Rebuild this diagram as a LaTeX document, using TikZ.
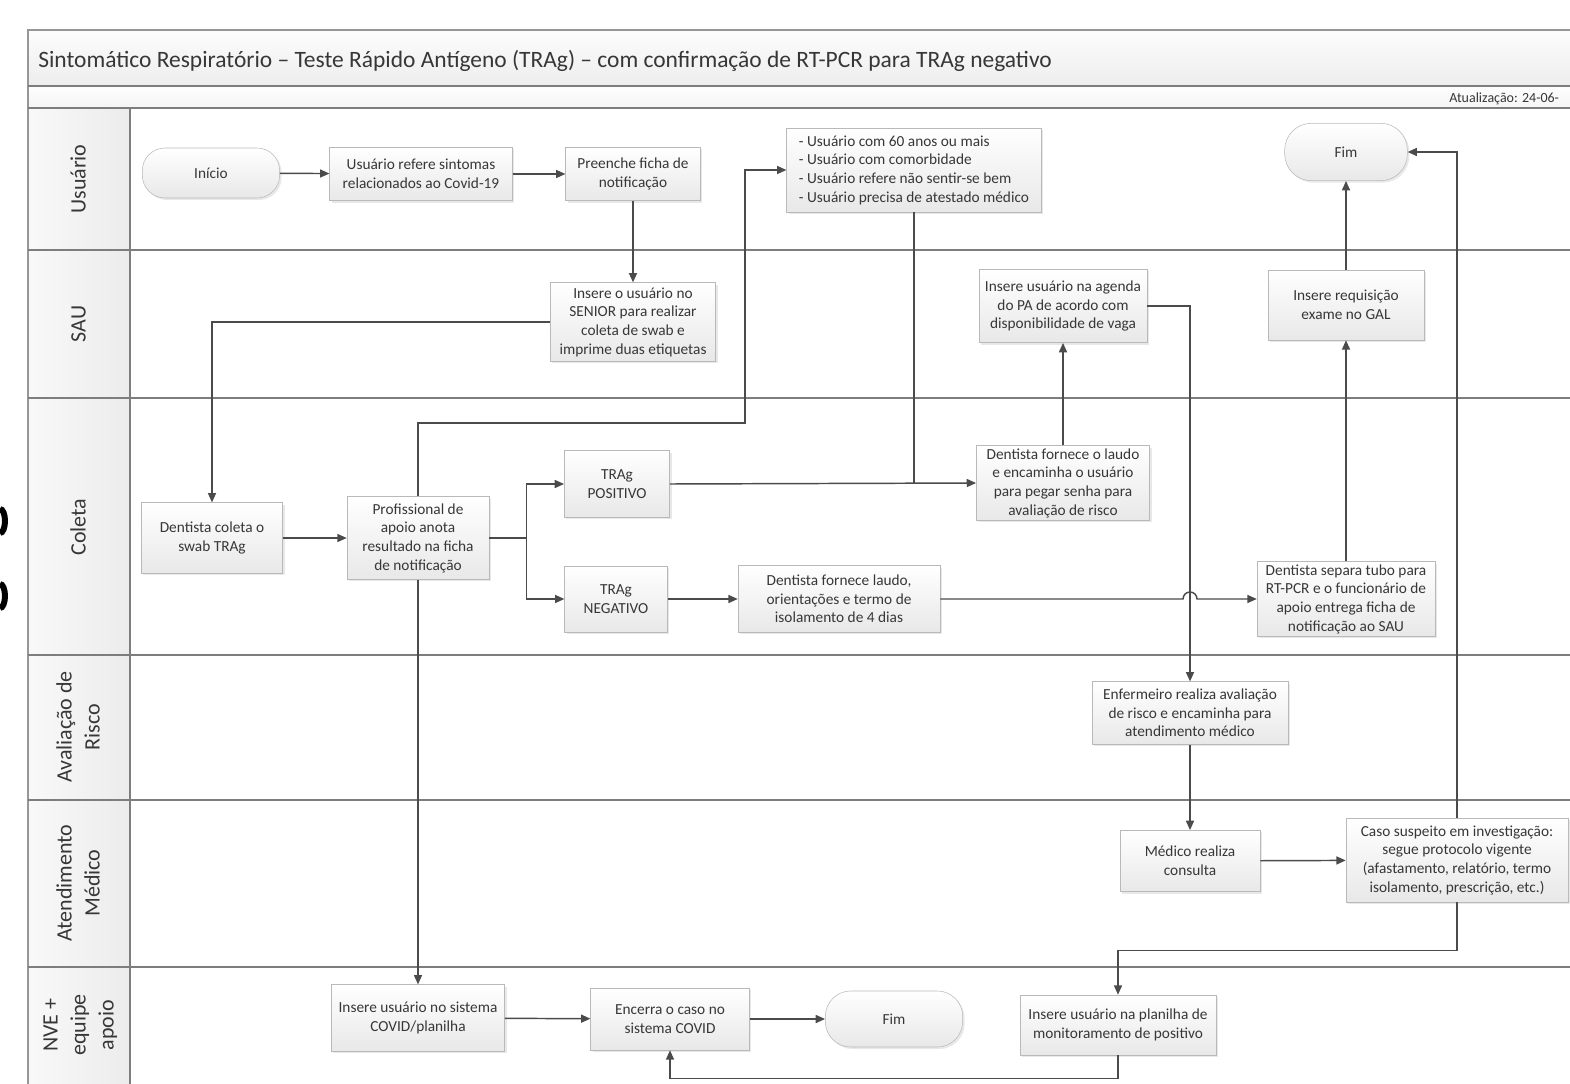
\documentclass[tikz,border=0pt]{standalone}
\usepackage{fontspec}
\setmainfont{Carlito}
\usetikzlibrary{arrows.meta,shadows,calc}
\definecolor{linegray}{RGB}{75,75,75}
\definecolor{boxline}{RGB}{185,185,185}
\definecolor{boxfill}{RGB}{232,232,232}
\definecolor{lanegray}{RGB}{125,125,125}
\definecolor{textgray}{RGB}{55,55,55}
\newcommand{\lanetext}[1]{\begin{tabular}{@{}c@{}}#1\end{tabular}}

\begin{document}
\begin{tikzpicture}[x=0.75pt,y=0.75pt,yscale=-1,xscale=1,
	stepbox/.style={draw=boxline, top color=white, bottom color=boxfill, drop shadow={opacity=0.18,shadow xshift=1.5pt,shadow yshift=-1.5pt}, align=center, text=textgray, font=\fontsize{11.5}{14}\selectfont, inner sep=2pt},
	pillbox/.style={stepbox, rounded corners=17pt},
	lanelabel/.style={rotate=90, text=textgray, inner sep=0pt, font=\fontsize{16.5}{21}\selectfont},
	conn/.style={draw=linegray, line width=1.1pt, -{Triangle[length=7pt,width=6pt]}},
	link/.style={draw=linegray, line width=1.1pt}]
		\useasboundingbox (0,0) rectangle (1570,1084);
		\fill [white] (0,0) rectangle (1570,1084);
		\clip (0,0) rectangle (1570,1084);
		%Frame and lanes
		\shade [top color=gray!2, bottom color=gray!14] (28,30) rectangle (1580,86);
		\shade [top color=gray!1, bottom color=gray!8] (28,86) rectangle (1580,108);
		\shade [left color=gray!5, right color=gray!15] (28,108) rectangle (130,1090);
		\draw [lanegray!80, line width=1pt] (1580,30) -- (28,30) -- (28,1090);
		\draw [lanegray, line width=2pt] (28,86) -- (1580,86);
		\draw [lanegray, line width=1.2pt] (28,108) -- (1580,108);
		\foreach \y in {250,398,655,800,967}
			\draw [lanegray, line width=1.5pt] (28,\y) -- (1580,\y);
		\draw [lanegray, line width=1.2pt] (130,108) -- (130,1090);
		%Edge marks
		\draw [line width=4.5pt] (0,533) arc [start angle=90, end angle=-90, x radius=5, y radius=12];
		\draw [line width=4.5pt] (0,608) arc [start angle=90, end angle=-90, x radius=5, y radius=12];
		
		% Text Node
		\draw (37,61) node [anchor=west][inner sep=0.75pt] [font=\fontsize{17.6}{20}\selectfont, text=textgray] (title) {Sintomático Respiratório – Teste Rápido Antígeno (TRAg) – com confirmação de RT-PCR para TRAg negativo};
		% Text Node
		\draw (1448,99) node [anchor=west][inner sep=0.75pt] [font=\fontsize{10.5}{12}\selectfont, text=textgray] (update) {Atualização: 24-06-};
		
		% Lane labels
		\draw (80,179) node [lanelabel] (laneA) {\lanetext{Usuário}};
		\draw (80,324) node [lanelabel] (laneB) {\lanetext{SAU}};
		\draw (80,527) node [lanelabel] (laneC) {\lanetext{Coleta}};
		\draw (80,727) node [lanelabel] (laneD) {\lanetext{Avaliação de\\Risco}};
		\draw (80,883) node [lanelabel] (laneE) {\lanetext{Atendimento\\Médico}};
		\draw (80,1025) node [lanelabel] (laneF) {\lanetext{NVE +\\equipe\\apoio}};
		
		% Text Node
		\draw (211,173) node [pillbox, minimum width=103pt, minimum height=37.5pt] (inicio) {Início};
		% Text Node
		\draw (421,174) node [stepbox, minimum width=137pt, minimum height=40pt] (refere) {Usuário refere sintomas\\relacionados ao Covid-19};
		% Text Node
		\draw (633,174) node [stepbox, minimum width=101pt, minimum height=40pt] (preenche) {Preenche ficha de\\notificação};
		% Text Node
		\draw (914,170) node [stepbox, align=left, minimum width=191pt, minimum height=63pt] (criterios) {- Usuário com 60 anos ou mais\\- Usuário com comorbidade\\- Usuário refere não sentir-se bem\\- Usuário precisa de atestado médico};
		% Text Node
		\draw (1346,152) node [pillbox, rounded corners=20pt, minimum width=92pt, minimum height=43pt] (fimA) {Fim};
		% Text Node
		\draw (633,322) node [stepbox, minimum width=124pt, minimum height=59pt] (senior) {Insere o usuário no\\SENIOR para realizar\\coleta de swab e\\imprime duas etiquetas};
		% Text Node
		\draw (1063,306) node [stepbox, minimum width=126pt, minimum height=55pt] (agenda) {Insere usuário na agenda\\do PA de acordo com\\disponibilidade de vaga};
		% Text Node
		\draw (1346,305) node [stepbox, minimum width=117pt, minimum height=52.5pt] (gal) {Insere requisição\\exame no GAL};
		% Text Node
		\draw (212,538) node [stepbox, minimum width=106pt, minimum height=53pt] (swab) {Dentista coleta o\\swab TRAg};
		% Text Node
		\draw (418,538) node [stepbox, minimum width=106.5pt, minimum height=62pt] (apoio) {Profissional de\\apoio anota\\resultado na ficha\\de notificação};
		% Text Node
		\draw (617,484) node [stepbox, minimum width=79pt, minimum height=50pt] (positivo) {TRAg\\POSITIVO};
		% Text Node
		\draw (616,599) node [stepbox, minimum width=77pt, minimum height=49.5pt] (negativo) {TRAg\\NEGATIVO};
		% Text Node
		\draw (1063,483) node [stepbox, minimum width=130pt, minimum height=55pt] (laudoA) {Dentista fornece o laudo\\e encaminha o usuário\\para pegar senha para\\avaliação de risco};
		% Text Node
		\draw (839,599) node [stepbox, minimum width=151.5pt, minimum height=50pt] (laudoB) {Dentista fornece laudo,\\orientações e termo de\\isolamento de 4 dias};
		% Text Node
		\draw (1346,599) node [stepbox, minimum width=133.5pt, minimum height=55.5pt] (tubo) {Dentista separa tubo para\\RT-PCR e o funcionário de\\apoio entrega ficha de\\notificação ao SAU};
		% Text Node
		\draw (1190,713) node [stepbox, minimum width=147pt, minimum height=47pt] (enfermeiro) {Enfermeiro realiza avaliação\\de risco e encaminha para\\atendimento médico};
		% Text Node
		\draw (1190,861) node [stepbox, minimum width=105pt, minimum height=46pt] (medico) {Médico realiza\\consulta};
		% Text Node
		\draw (1457,860) node [stepbox, minimum width=166.5pt, minimum height=63pt] (suspeito) {Caso suspeito em investigação:\\segue protocolo vigente\\(afastamento, relatório, termo\\isolamento, prescrição, etc.)};
		% Text Node
		\draw (418,1018) node [stepbox, minimum width=130pt, minimum height=50pt] (sistema) {Insere usuário no sistema\\COVID/planilha};
		% Text Node
		\draw (670,1019) node [stepbox, minimum width=119pt, minimum height=46.5pt] (encerra) {Encerra o caso no\\sistema COVID};
		% Text Node
		\draw (894,1019) node [pillbox, rounded corners=19pt, minimum width=103pt, minimum height=42pt] (fimB) {Fim};
		% Text Node
		\draw (1118,1025) node [stepbox, minimum width=147pt, minimum height=45pt] (planilha) {Insere usuário na planilha de\\monitoramento de positivo};
		
		\coordinate (bendA) at (745,423);
		
		%Straight Lines
		\draw [conn] (inicio) -- (refere);
		\draw [conn] (refere) -- (preenche);
		\draw [conn] (preenche) -- (senior);
		\draw [conn] (senior.west) -| (swab.north);
		\draw [conn] (swab) -- (apoio);
		\draw [conn] (apoio.east) -- ++(37,0) |- (positivo.west);
		\draw [conn] (apoio.east) -- ++(37,0) |- (negativo.west);
		\draw [conn] (apoio.north) |- (bendA) |- (criterios.west);
		\draw [conn] (apoio.south) -- (sistema.north);
		\draw [link] (criterios.south) -- (criterios.south |- positivo.east);
		\draw [conn] (positivo.east) -- (laudoA.west);
		\draw [conn] (laudoA) -- (agenda);
		\draw [conn] (agenda.east) -| (enfermeiro.north);
		\draw [conn] (negativo) -- (laudoB);
		\draw [conn] (laudoB.east) -- ($(laudoB.east -| enfermeiro.north)+(-7,0)$) arc [start angle=180, end angle=360, radius=7] -- (tubo.west);
		\draw [conn] (tubo) -- (gal);
		\draw [conn] (gal) -- (fimA);
		\draw [conn] (enfermeiro) -- (medico);
		\draw [conn] (medico) -- (suspeito);
		\draw [conn] (suspeito.north) |- (fimA.east);
		\draw [conn] (suspeito.south) -- ++(0,48) -| (planilha.north);
		\draw [conn] (sistema) -- (encerra);
		\draw [conn] (encerra) -- (fimB);
		\draw [conn] (planilha.south) -- ++(0,23) -| (encerra.south);
	\end{tikzpicture}
\end{document}
